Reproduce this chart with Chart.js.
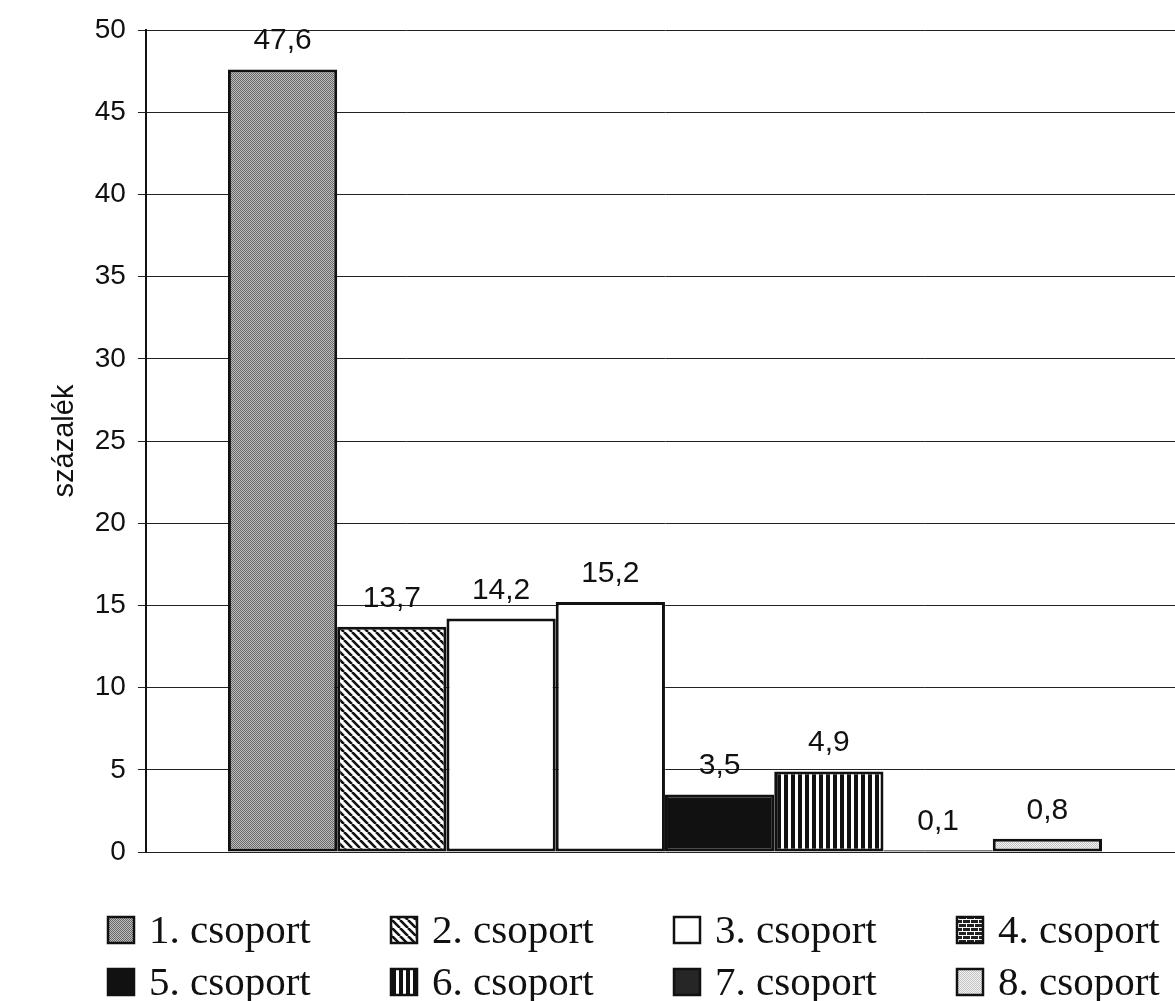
<!DOCTYPE html>
<html>
<head>
<meta charset="utf-8">
<script src="https://cdn.jsdelivr.net/npm/chart.js@4.4.1/dist/chart.umd.min.js"></script>
<style>
  html, body { margin: 0; padding: 0; background: #fff; overflow: hidden; }
  #wrap { width: 1190px; height: 1001px; }
</style>
</head>
<body>
<div id="wrap"><canvas id="chart"></canvas></div>
<script>
// ─── Data ──────────────────────────────────────────────
const groups    = ['1. csoport', '2. csoport', '3. csoport', '4. csoport',
                   '5. csoport', '6. csoport', '7. csoport', '8. csoport'];
const values    = [47.6, 13.7, 14.2, 15.2, 3.5, 4.9, 0.1, 0.8];
const yMin      = 0;
const yMax      = 50;
const yStep     = 5;
const yTitle    = 'százalék';

// ─── Fill patterns (scanned-print look) ────────────────
function makePattern(w, h, paint) {
    const c = document.createElement('canvas');
    c.width = w; c.height = h;
    const g = c.getContext('2d');
    paint(g, w, h);
    return g.createPattern(c, 'repeat');
}

const checker = (a, b) => makePattern(2, 2, g => {
    g.fillStyle = a; g.fillRect(0, 0, 2, 2);
    g.fillStyle = b; g.fillRect(0, 0, 1, 1); g.fillRect(1, 1, 1, 1);
});

const P = {
    gray:    checker('#c0c0c0', '#666666'),
    light:   checker('#f2f2f2', '#c4c4c4'),
    hatch:   makePattern(8, 8, (g, s) => {
        g.fillStyle = '#fff'; g.fillRect(0, 0, s, s);
        g.strokeStyle = '#111'; g.lineWidth = 2.6;
        g.beginPath();
        for (const k of [-s, 0, s]) { g.moveTo(k, 0); g.lineTo(k + s, s); }
        g.stroke();
    }),
    vstripe: makePattern(7, 4, g => {
        g.fillStyle = '#fff'; g.fillRect(0, 0, 7, 4);
        g.fillStyle = '#111'; g.fillRect(0, 0, 4, 4);
    }),
    brick:   makePattern(8, 8, g => {
        g.fillStyle = '#222'; g.fillRect(0, 0, 8, 8);
        g.fillStyle = '#fff';
        g.fillRect(0, 3, 8, 1); g.fillRect(0, 7, 8, 1);
        g.fillRect(2, 0, 1, 3); g.fillRect(6, 4, 1, 3);
    })
};

const barFills    = [P.gray, P.hatch, '#ffffff', '#ffffff', '#111111', P.vstripe, '#111111', P.light];
const legendFills = [P.gray, P.hatch, '#ffffff', P.brick,   '#111111', P.vstripe, '#262626', P.light];

const fmt = v => v.toFixed(1).replace('.', ',');

// ─── Plugins ───────────────────────────────────────────
const valueLabels = {
    id: 'valueLabels',
    afterDatasetsDraw(chart) {
        const ctx = chart.ctx;
        ctx.save();
        ctx.font = "30px 'Liberation Sans', Arial, sans-serif";
        ctx.fillStyle = '#111';
        ctx.textAlign = 'center';
        ctx.textBaseline = 'alphabetic';
        chart.data.datasets.forEach((ds, i) => {
            const bar = chart.getDatasetMeta(i).data[0];
            ctx.fillText(fmt(ds.data[0]), bar.x, bar.y - 20);
        });
        ctx.restore();
    }
};

// legend laid out as a 4 x 2 grid, like the printed original
const gridLegend = {
    id: 'gridLegend',
    afterDraw(chart, args, o) {
        const ctx = chart.ctx;
        ctx.save();
        ctx.font = "41px 'Liberation Serif', 'Times New Roman', serif";
        ctx.textBaseline = 'alphabetic';
        ctx.textAlign = 'left';
        chart.data.datasets.forEach((ds, i) => {
            const x = o.x + (i % o.cols) * o.colStep;
            const y = o.y + Math.floor(i / o.cols) * o.rowStep;
            ctx.fillStyle = legendFills[i];
            ctx.fillRect(x, y - o.box, o.box, o.box);
            ctx.lineWidth = 2.5;
            ctx.strokeStyle = '#111';
            ctx.strokeRect(x, y - o.box, o.box, o.box);
            ctx.fillStyle = '#111';
            ctx.fillText(ds.label, x + o.box + o.gap, y);
        });
        ctx.restore();
    }
};

// ─── Chart ─────────────────────────────────────────────
new Chart(document.getElementById('chart').getContext('2d'), {
    type: 'bar',
    data: {
        labels: [''],
        datasets: groups.map((name, i) => ({
            label: name,
            data: [values[i]],
            backgroundColor: barFills[i],
            borderColor: '#111',
            borderWidth: 3,
            borderSkipped: false
        }))
    },
    options: {
        responsive: true,
        maintainAspectRatio: false,
        animation: false,
        layout: { padding: { left: 48, right: 6, top: 30, bottom: 149 } },
        datasets: { bar: { barPercentage: 1, categoryPercentage: 0.842 } },
        plugins: {
            legend: { display: false },
            tooltip: { enabled: false },
            gridLegend: { x: 108, y: 943, cols: 4, colStep: 283, rowStep: 52, box: 26, gap: 15 }
        },
        scales: {
            x: { display: false },
            y: {
                min: yMin, max: yMax,
                border: { display: true, color: '#111', width: 2 },
                grid: { color: '#222', lineWidth: 1, tickLength: 8, tickColor: '#222' },
                ticks: {
                    stepSize: yStep,
                    padding: 12,
                    color: '#111',
                    font: { size: 28, family: "'Liberation Sans', Arial, sans-serif" }
                },
                title: {
                    display: true,
                    text: yTitle,
                    color: '#111',
                    padding: { top: 0, bottom: 0 },
                    font: { size: 29, family: "'Liberation Sans', Arial, sans-serif" }
                }
            }
        }
    },
    plugins: [valueLabels, gridLegend]
});
</script>
</body>
</html>
